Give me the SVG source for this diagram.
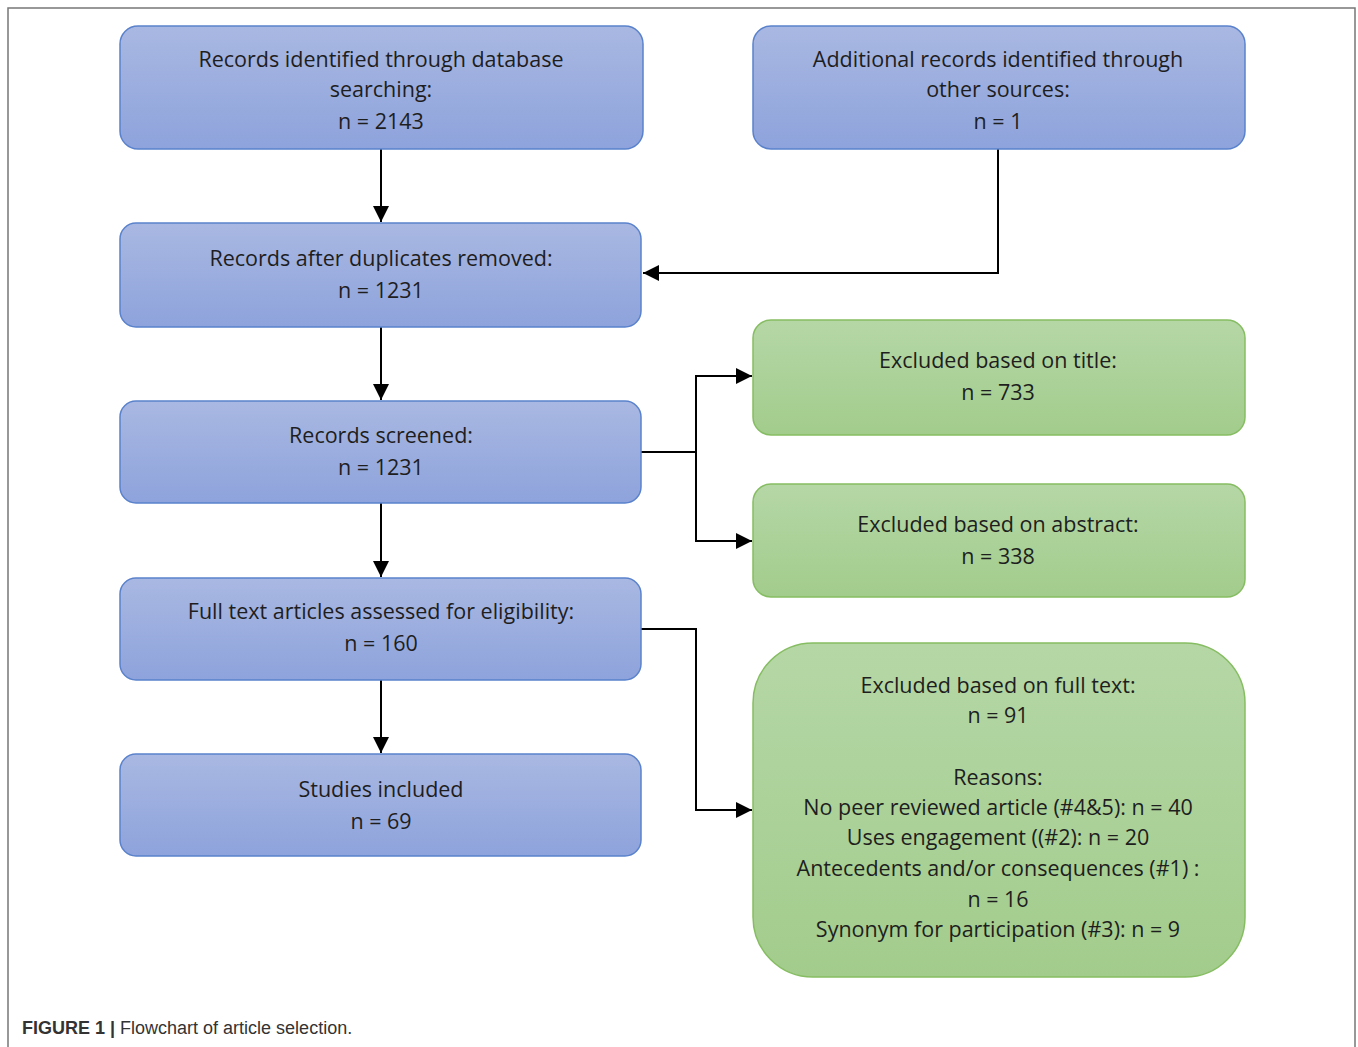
<svg xmlns="http://www.w3.org/2000/svg" width="1358" height="1047" viewBox="0 0 1358 1047">
<defs>
<linearGradient id="gb" x1="0" y1="0" x2="0" y2="1"><stop offset="0" stop-color="#a9b8e2"/><stop offset="1" stop-color="#8ea3dc"/></linearGradient>
<linearGradient id="gg" x1="0" y1="0" x2="0" y2="1"><stop offset="0" stop-color="#b5d7a6"/><stop offset="1" stop-color="#a2cc8c"/></linearGradient>
<marker id="ah" viewBox="0 0 16 16" refX="16" refY="8" markerWidth="16" markerHeight="16" markerUnits="userSpaceOnUse" orient="auto"><path d="M0,0 L16,8 L0,16 z" fill="#000"/></marker>
</defs>
<style>
.b{fill:url(#gb);stroke:#5a82cc;stroke-width:1.5}
.g{fill:url(#gg);stroke:#86bd62;stroke-width:1.5}
.t{font-family:"Open Sans","Liberation Sans",sans-serif;font-size:21.5px;fill:#1e1e1e;text-anchor:middle}
.c{fill:none;stroke:#000;stroke-width:2}
</style>
<rect x="0" y="0" width="1358" height="1047" fill="#fff"/>
<path d="M8,1047 V8 H1355 V1047" fill="none" stroke="#777" stroke-width="1.5"/>
<g id="connectors">
<path class="c" d="M381,149 V222" marker-end="url(#ah)"/>
<path class="c" d="M998,149 V273 H643" marker-end="url(#ah)"/>
<path class="c" d="M381,327 V400" marker-end="url(#ah)"/>
<path class="c" d="M381,503 V577" marker-end="url(#ah)"/>
<path class="c" d="M381,680 V753" marker-end="url(#ah)"/>
<path class="c" d="M641,452 H696"/>
<path class="c" d="M696,452 V376 H752" marker-end="url(#ah)"/>
<path class="c" d="M696,452 V541 H752" marker-end="url(#ah)"/>
<path class="c" d="M641,629 H696 V810 H752" marker-end="url(#ah)"/>
</g>
<g id="n1"><rect class="b" x="120" y="26" width="523" height="123" rx="18"/>
<text class="t" x="381" y="67">Records identified through database</text>
<text class="t" x="381" y="97">searching:</text>
<text class="t" x="381" y="129">n = 2143</text></g>
<g id="n2"><rect class="b" x="753" y="26" width="492" height="123" rx="18"/>
<text class="t" x="998" y="67">Additional records identified through</text>
<text class="t" x="998" y="97">other sources:</text>
<text class="t" x="998" y="129">n = 1</text></g>
<g id="n3"><rect class="b" x="120" y="223" width="521" height="104" rx="16"/>
<text class="t" x="381" y="266">Records after duplicates removed:</text>
<text class="t" x="381" y="298">n = 1231</text></g>
<g id="n4"><rect class="b" x="120" y="401" width="521" height="102" rx="16"/>
<text class="t" x="381" y="443">Records screened:</text>
<text class="t" x="381" y="475">n = 1231</text></g>
<g id="n5"><rect class="b" x="120" y="578" width="521" height="102" rx="16"/>
<text class="t" x="381" y="619">Full text articles assessed for eligibility:</text>
<text class="t" x="381" y="651">n = 160</text></g>
<g id="n6"><rect class="b" x="120" y="754" width="521" height="102" rx="16"/>
<text class="t" x="381" y="797">Studies included</text>
<text class="t" x="381" y="829">n = 69</text></g>
<g id="n7"><rect class="g" x="753" y="320" width="492" height="115" rx="18"/>
<text class="t" x="998" y="368">Excluded based on title:</text>
<text class="t" x="998" y="400">n = 733</text></g>
<g id="n8"><rect class="g" x="753" y="484" width="492" height="113" rx="18"/>
<text class="t" x="998" y="532">Excluded based on abstract:</text>
<text class="t" x="998" y="564">n = 338</text></g>
<g id="n9"><rect class="g" x="753" y="643" width="492" height="334" rx="60"/>
<text class="t" x="998" y="693">Excluded based on full text:</text>
<text class="t" x="998" y="723">n = 91</text>
<text class="t" x="998" y="785">Reasons:</text>
<text class="t" x="998" y="815">No peer reviewed article (#4&amp;5): n = 40</text>
<text class="t" x="998" y="845">Uses engagement ((#2): n = 20</text>
<text class="t" x="998" y="876">Antecedents and/or consequences (#1) :</text>
<text class="t" x="998" y="907">n = 16</text>
<text class="t" x="998" y="937">Synonym  for participation (#3): n = 9</text></g>
<text x="22" y="1034" font-family="'Liberation Sans',Arial,sans-serif" font-size="18" fill="#333"><tspan font-weight="bold">FIGURE 1 |</tspan> Flowchart of article selection.</text>
</svg>
